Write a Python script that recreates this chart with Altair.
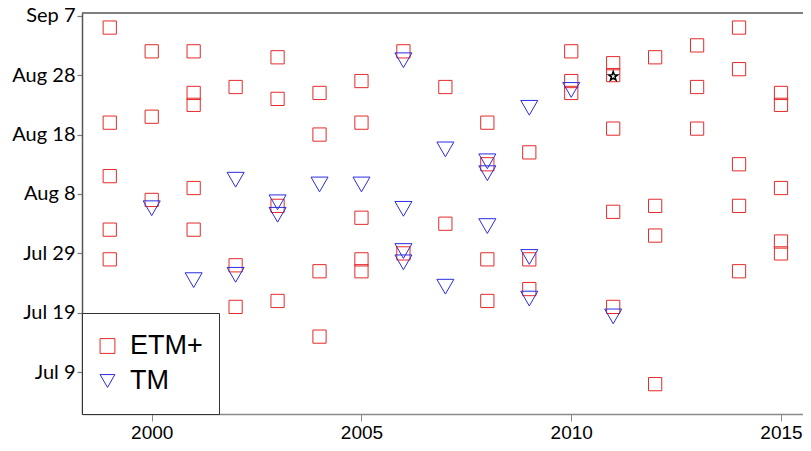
import math
import altair as alt
import pandas as pd

# ETM+ acquisitions (year, day of year)
etm_year = [1999, 1999, 1999, 1999, 1999,
            2000, 2000, 2000,
            2001, 2001, 2001, 2001, 2001,
            2002, 2002, 2002,
            2003, 2003, 2003, 2003,
            2004, 2004, 2004, 2004,
            2005, 2005, 2005, 2005, 2005,
            2006, 2006,
            2007, 2007,
            2008, 2008, 2008, 2008,
            2009, 2009, 2009,
            2010, 2010, 2010,
            2011, 2011, 2011, 2011, 2011,
            2012, 2012, 2012, 2012,
            2013, 2013, 2013,
            2014, 2014, 2014, 2014, 2014,
            2015, 2015, 2015, 2015, 2015]
etm_doy = [248, 232, 223, 214, 209,
           244, 233, 219,
           244, 237, 235, 221, 214,
           238, 208, 201,
           243, 236, 218, 202,
           237, 230, 207, 196,
           239, 232, 216, 209, 207,
           244, 210,
           238, 215,
           232, 225, 209, 202,
           227, 209, 204,
           244, 239, 237,
           242, 240, 231, 217, 201,
           243, 218, 213, 188,
           245, 238, 231,
           248, 241, 225, 218, 207,
           237, 235, 221, 212, 210]

# TM acquisitions
tm_year = [2000, 2001, 2002, 2002, 2003, 2003, 2004, 2005,
           2006, 2006, 2006, 2006, 2007, 2007, 2008, 2008, 2008,
           2009, 2009, 2009, 2010, 2011]
tm_doy = [217.6, 205.5, 222.4, 206.4, 218.6, 216.5, 221.6, 221.6,
          242.5, 217.5, 210.4, 208.5, 227.5, 204.4, 225.5, 223.5, 214.6,
          234.5, 209.4, 202.4, 237.5, 199.4]

# highlighted acquisition
star_year = [2011]
star_doy = [239.8]

sensors = ["ETM+", "TM"]
sensor_colors = ["#e52a2a", "#2b2bdf"]
sensor_shapes = ["square", "triangle-down"]

x_ticks = [2000, 2005, 2010, 2015]
y_tick_values = [190, 200, 210, 220, 230, 240, 250]
y_tick_labels = ["Jul 9", "Jul 19", "Jul 29", "Aug 8", "Aug 18", "Aug 28", "Sep 7"]

x_dom = [1998.3385, 2015.5244]
y_dom = [182.98, 250.45]

etm_df = pd.DataFrame({"year": etm_year, "doy": etm_doy, "sensor": ["ETM+"] * len(etm_year)})
tm_df = pd.DataFrame({"year": tm_year, "doy": tm_doy, "sensor": ["TM"] * len(tm_year)})
star_df = pd.DataFrame({"year": star_year, "doy": star_doy})

label_expr = "".join(
    f"datum.value == {v} ? '{l}' : " for v, l in zip(y_tick_values, y_tick_labels)
) + "''"

# five-pointed star as a unit SVG path (Vega custom symbol)
pts = []
for k in range(10):
    r = 1.0 if k % 2 == 0 else 0.4
    a = math.radians(-90 + 36 * k)
    pts.append(f"{r * math.cos(a):.3f},{r * math.sin(a):.3f}")
star_path = "M" + "L".join(pts) + "Z"

W, H = 721, 401
x_scale = alt.Scale(domain=x_dom, nice=False, zero=False)
y_scale = alt.Scale(domain=y_dom, nice=False, zero=False)

x_enc = alt.X("year:Q", scale=x_scale,
              axis=alt.Axis(values=x_ticks, format="d", title=None, grid=False,
                            domainColor="#8a8a8a", domainWidth=1.5,
                            tickColor="#8a8a8a", tickSize=7, tickWidth=1,
                            labelFont="Liberation Sans", labelFontSize=19,
                            labelColor="black", labelPadding=2))
y_enc = alt.Y("doy:Q", scale=y_scale,
              axis=alt.Axis(values=y_tick_values, labelExpr=label_expr, title=None,
                            grid=False, domainColor="#555555", domainWidth=1.5,
                            tickColor="#777777", tickSize=5, tickWidth=1.2,
                            labelFont="Lato", labelFontSize=20, labelColor="black",
                            labelPadding=2))
color_enc = alt.Color("sensor:N", scale=alt.Scale(domain=sensors, range=sensor_colors),
                      legend=alt.Legend(title=None, orient="bottom-left"))
shape_enc = alt.Shape("sensor:N", scale=alt.Scale(domain=sensors, range=sensor_shapes),
                      legend=alt.Legend(title=None, orient="bottom-left"))

etm = alt.Chart(etm_df).mark_point(filled=False, strokeWidth=1, opacity=1, size=175).encode(
    x=x_enc, y=y_enc, color=color_enc, shape=shape_enc)
tm = alt.Chart(tm_df).mark_point(filled=False, strokeWidth=1, opacity=1, size=290).encode(
    x=x_enc, y=y_enc, color=color_enc, shape=shape_enc)

star = alt.Chart(star_df).mark_point(shape=star_path, filled=False, color="black",
                                     strokeWidth=1.5, size=90, opacity=1).encode(
    x=alt.X("year:Q", scale=x_scale), y=alt.Y("doy:Q", scale=y_scale))

top_border = alt.Chart(star_df).mark_rule(color="#555555", strokeWidth=1.5).encode(
    x=alt.datum(x_dom[0]), x2=alt.datum(x_dom[1]), y=alt.datum(y_dom[1])
)

chart = alt.layer(etm, tm, star, top_border).properties(
    width=W, height=H,
    autosize="none",
    padding={"left": 74, "top": 5, "right": 0, "bottom": 27},
).configure_view(stroke=None).configure_legend(
    offset=0, padding=16,
    strokeColor="#333333", fillColor="white",
    labelFontSize=27, labelFont="Liberation Sans", labelColor="black",
    labelOffset=9, symbolOffset=-4, clipHeight=34, rowPadding=1,
    symbolStrokeWidth=1, symbolSize=220,
)

chart.save("out.html", embed_options={"renderer": "svg", "actions": False})
